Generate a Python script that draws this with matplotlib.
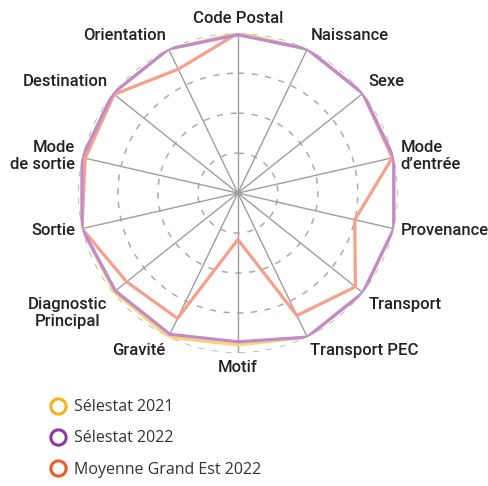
import numpy as np
import matplotlib.pyplot as plt
from matplotlib.lines import Line2D

# axes, clockwise from the top
categories = ["Code Postal", "Naissance", "Sexe", "Mode\nd’entrée", "Provenance",
              "Transport", "Transport PEC", "Motif", "Gravité",
              "Diagnostic\nPrincipal", "Sortie", "Mode\nde sortie",
              "Destination", "Orientation"]

selestat_2021 = [100, 100, 100, 100, 100, 100, 100, 95, 100, 99, 100, 100, 100, 100]
selestat_2022 = [99, 100, 100, 100, 100, 100, 100, 93, 98, 98, 100, 100, 100, 100]
grand_est_2022 = [100, 100, 100, 99, 75, 94, 85, 29, 87, 89, 100, 98, 99, 86]

series_names = ["Sélestat 2021", "Sélestat 2022", "Moyenne Grand Est 2022"]
series_colors = ["#F5B31B", "#8E3A9E", "#F05A28"]
line_colors = ["#FCD37A", "#C08BCB", "#F5A08A"]

n = len(categories)
theta = np.arange(n) * 2 * np.pi / n

fig = plt.figure(figsize=(4.89, 4.86), dpi=100)
ax = fig.add_axes([0.1595, 0.2737, 0.654, 0.658], projection="polar")
ax.set_theta_zero_location("N")
ax.set_theta_direction(-1)
ax.set_ylim(0, 100)
ax.grid(False)
ax.spines["polar"].set_visible(False)
ax.set_xticks([])
ax.set_yticks([])
ax.patch.set_alpha(0)

# dashed rings
tt = np.linspace(0, 2 * np.pi, 400)
for r in [25, 50, 75, 100]:
    ax.plot(tt, np.full_like(tt, r), color="#ABABAB", lw=1.1, ls=(0, (4, 5)), zorder=1)

# spokes
for t in theta:
    ax.plot([t, t], [0, 100], color="#9E9E9E", lw=1.0, zorder=2)

def closed(v):
    v = np.asarray(v, float)
    return np.append(theta, theta[0]), np.append(v, v[0])

for vals, col, z in [(grand_est_2022, line_colors[2], 3),
                     (selestat_2021, line_colors[0], 4),
                     (selestat_2022, line_colors[1], 5)]:
    tx, vy = closed(vals)
    ax.plot(tx, vy, color=col, lw=2.3, zorder=z, solid_joinstyle="miter")

# category labels
lab_font = dict(family=["Roboto", "DejaVu Sans"], fontsize=12,
                color="#222222", weight="medium")
for t, lab in zip(theta, categories):
    s, c = np.sin(t), np.cos(t)
    ha = "center" if abs(s) < 0.1 else ("left" if s > 0 else "right")
    va = "bottom" if c > 0.3 else ("top" if c < -0.3 else "center")
    ax.annotate(lab, xy=(t, 100), xytext=(5 * s, 5 * c), textcoords="offset points",
                ha=ha, va=va, multialignment=ha if "Diagnostic" not in lab else "center",
                linespacing=1.15, annotation_clip=False, **lab_font)

handles = [Line2D([], [], marker="o", ls="none", markersize=11, markerfacecolor="none",
                  markeredgecolor=c, markeredgewidth=2.2) for c in series_colors]
fig.legend(handles, series_names, loc="upper left", bbox_to_anchor=(0.07, 0.195),
           frameon=False, handletextpad=0.0, labelspacing=0.95, borderpad=0,
           prop=dict(family="Open Sans", size=11.5), labelcolor="#333333")

fig.savefig("out.png", dpi=100)
